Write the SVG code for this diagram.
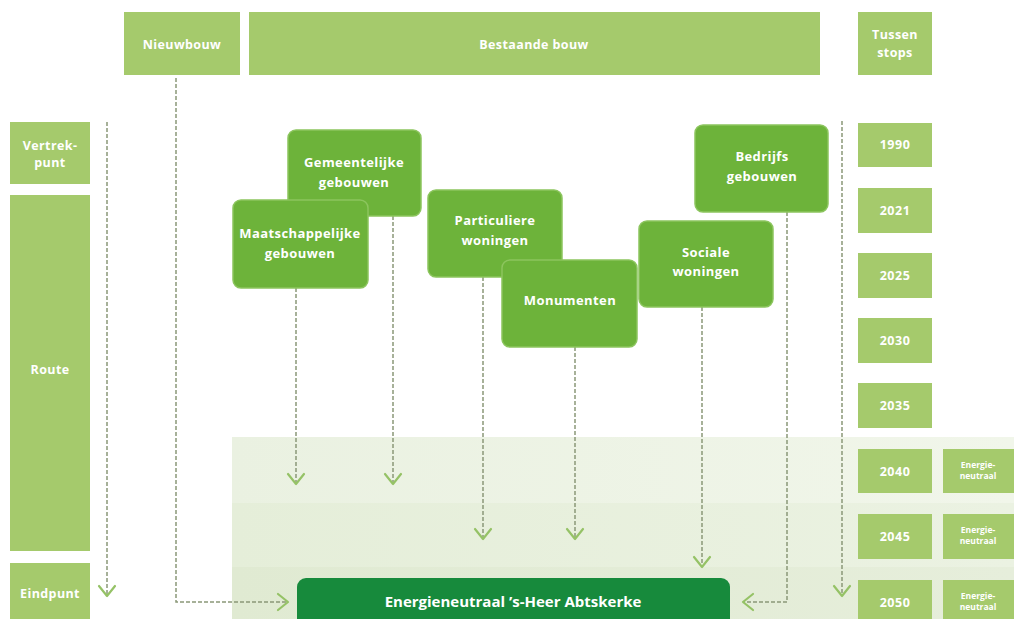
<svg xmlns="http://www.w3.org/2000/svg" width="1014" height="619" viewBox="0 0 1014 619">
<style>
.hdr{fill:#a5ca6c}
.node rect{fill:#6db33a;stroke:#8cc55e;stroke-width:1.5}
.t{font-family:"Open Sans","Liberation Sans",sans-serif;font-weight:700;fill:#ffffff;text-anchor:middle}
.h{font-size:12.5px;letter-spacing:0.4px}
.n{font-size:13px;letter-spacing:0.4px}
.y{font-size:12.5px;letter-spacing:0.5px}
.s{font-size:8.5px}
.dash{fill:none;stroke:#8a9878;stroke-width:1.5;stroke-dasharray:4 2}
</style>
<defs>
<marker id="chev" viewBox="-12 -10 14 20" refX="0" refY="0" markerWidth="14" markerHeight="20" markerUnits="userSpaceOnUse" orient="auto">
<path d="M-10,-8 L0,0 L-10,8" fill="none" stroke="#95c266" stroke-width="2.2" stroke-linecap="round" stroke-linejoin="round"/>
</marker>
<linearGradient id="b1" x1="0" y1="0" x2="1" y2="0"><stop offset="0" stop-color="#eaf1e1"/><stop offset="1" stop-color="#f1f6ea"/></linearGradient>
<linearGradient id="b2" x1="0" y1="0" x2="1" y2="0"><stop offset="0" stop-color="#e5eed9"/><stop offset="1" stop-color="#ebf2e2"/></linearGradient>
<linearGradient id="b3" x1="0" y1="0" x2="1" y2="0"><stop offset="0" stop-color="#e0ead2"/><stop offset="1" stop-color="#e6eedb"/></linearGradient>
</defs>
<rect width="1014" height="619" fill="#ffffff"/>
<g id="bands">
<rect x="232" y="437" width="782" height="66" fill="url(#b1)"/>
<rect x="232" y="503" width="782" height="64" fill="url(#b2)"/>
<rect x="232" y="567" width="782" height="52" fill="url(#b3)"/>
</g>
<g id="header">
<g id="nieuwbouw"><rect class="hdr" x="124" y="12" width="116" height="63"/><text class="t h" x="182" y="49">Nieuwbouw</text></g>
<g id="bestaande"><rect class="hdr" x="249" y="12" width="571" height="63"/><text class="t h" x="534" y="49">Bestaande bouw</text></g>
<g id="tussenstops"><rect class="hdr" x="858" y="12" width="74" height="63"/><text class="t h" x="895" y="39">Tussen</text><text class="t h" x="895" y="57">stops</text></g>
</g>
<g id="leftcol">
<g id="vertrekpunt"><rect class="hdr" x="10" y="122" width="80" height="62"/><text class="t h" x="50" y="150">Vertrek-</text><text class="t h" x="50" y="167">punt</text></g>
<g id="route"><rect class="hdr" x="10" y="195" width="80" height="356"/><text class="t h" x="50" y="374">Route</text></g>
<g id="eindpunt"><rect class="hdr" x="10" y="563" width="80" height="60"/><text class="t h" x="50" y="598">Eindpunt</text></g>
</g>
<g id="years">
<g id="y1990"><rect class="hdr" x="858" y="123" width="74" height="44"/><text class="t y" x="895" y="149">1990</text></g>
<g id="y2021"><rect class="hdr" x="858" y="188" width="74" height="45"/><text class="t y" x="895" y="215">2021</text></g>
<g id="y2025"><rect class="hdr" x="858" y="253" width="74" height="45"/><text class="t y" x="895" y="280">2025</text></g>
<g id="y2030"><rect class="hdr" x="858" y="318" width="74" height="45"/><text class="t y" x="895" y="345">2030</text></g>
<g id="y2035"><rect class="hdr" x="858" y="383" width="74" height="45"/><text class="t y" x="895" y="410">2035</text></g>
<g id="y2040"><rect class="hdr" x="858" y="449" width="74" height="44"/><text class="t y" x="895" y="476">2040</text></g>
<g id="y2045"><rect class="hdr" x="858" y="514" width="74" height="45"/><text class="t y" x="895" y="541">2045</text></g>
<g id="y2050"><rect class="hdr" x="858" y="580" width="74" height="45"/><text class="t y" x="895" y="607">2050</text></g>
<g id="e2040"><rect class="hdr" x="943" y="449" width="71" height="44"/><text class="t s" x="978" y="468">Energie-</text><text class="t s" x="978" y="479">neutraal</text></g>
<g id="e2045"><rect class="hdr" x="943" y="514" width="71" height="45"/><text class="t s" x="978" y="533">Energie-</text><text class="t s" x="978" y="544">neutraal</text></g>
<g id="e2050"><rect class="hdr" x="943" y="580" width="71" height="45"/><text class="t s" x="978" y="599">Energie-</text><text class="t s" x="978" y="610">neutraal</text></g>
</g>
<g id="connectors">
<path class="dash" d="M107,122 V596" marker-end="url(#chev)"/>
<path class="dash" d="M176,78 V602 H288" marker-end="url(#chev)"/>
<path class="dash" d="M296,288 V484" marker-end="url(#chev)"/>
<path class="dash" d="M393,216 V484" marker-end="url(#chev)"/>
<path class="dash" d="M483,277 V539" marker-end="url(#chev)"/>
<path class="dash" d="M575,347 V539" marker-end="url(#chev)"/>
<path class="dash" d="M702,307 V567" marker-end="url(#chev)"/>
<path class="dash" d="M787,212 V602 H743" marker-end="url(#chev)"/>
<path class="dash" d="M842,121 V596" marker-end="url(#chev)"/>
</g>
<g id="gemeentelijke" class="node"><rect x="288" y="130" width="133" height="86" rx="8"/><text class="t n" x="354" y="167">Gemeentelijke</text><text class="t n" x="354" y="187">gebouwen</text></g>
<g id="maatschappelijke" class="node"><rect x="233" y="200" width="135" height="88" rx="8"/><text class="t n" x="300" y="238">Maatschappelijke</text><text class="t n" x="300" y="258">gebouwen</text></g>
<g id="particuliere" class="node"><rect x="428" y="190" width="134" height="87" rx="8"/><text class="t n" x="495" y="225">Particuliere</text><text class="t n" x="495" y="245">woningen</text></g>
<g id="monumenten" class="node"><rect x="502" y="260" width="135" height="87" rx="8"/><text class="t n" x="570" y="305">Monumenten</text></g>
<g id="sociale" class="node"><rect x="639" y="221" width="134" height="86" rx="8"/><text class="t n" x="706" y="257">Sociale</text><text class="t n" x="706" y="276">woningen</text></g>
<g id="bedrijfs" class="node"><rect x="695" y="125" width="133" height="87" rx="8"/><text class="t n" x="762" y="161">Bedrijfs</text><text class="t n" x="762" y="181">gebouwen</text></g>
<g id="energieneutraal"><rect x="297" y="578" width="433" height="52" rx="9" fill="#178a3c"/><text class="t" x="513" y="607" font-size="15px">Energieneutraal ’s-Heer Abtskerke</text></g>
</svg>
